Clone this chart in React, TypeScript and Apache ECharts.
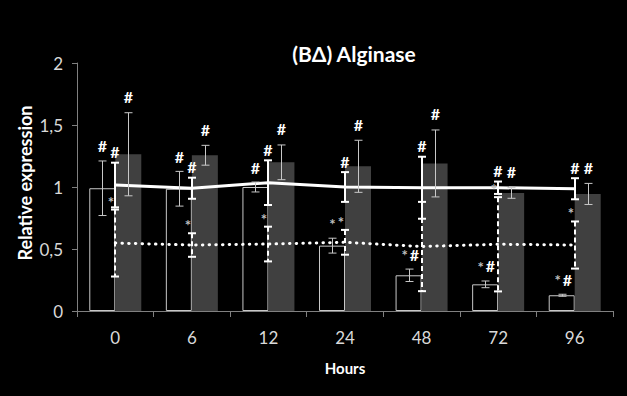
import React, { useEffect, useRef } from "react";
import * as echarts from "echarts";

const hours = ["0", "6", "12", "24", "48", "72", "96"];
const yTicks = [0, 0.5, 1, 1.5, 2];

const whiteBar = [0.99, 0.986, 1.0, 0.527, 0.288, 0.215, 0.127];
const whiteErr = [0.22, 0.14, 0.04, 0.06, 0.05, 0.027, 0.008];
const whiteAnn = ["#", "#", "#", "*", "*#", "*#", "*#"];

const grayBar = [1.264, 1.256, 1.199, 1.167, 1.19, 0.952, 0.944];
const grayErr = [0.335, 0.08, 0.14, 0.21, 0.27, 0.043, 0.085];
const grayAnn = ["#", "#", "#", "#", "#", "#", "#"];

const solidLine = [1.016, 0.99, 1.035, 1.0, 0.994, 0.994, 0.986];
const solidErr = [0.18, 0.085, 0.18, 0.12, 0.25, 0.05, 0.085];
const solidAnn = ["#", "#", "#", "#", "#", "#", "#"];

const dottedLine = [0.548, 0.532, 0.54, 0.554, 0.52, 0.538, 0.532];
const dottedErr = [0.27, 0.095, 0.14, 0.1, 0.36, 0.38, 0.19];
const dottedAnn = ["*", "*", "*", "*", "", "*", "*"];

const BAR_W = 26;
const FONT = "Lato, 'Open Sans', sans-serif";

function annSpans(text: string, x: number, y: number, size: number) {
  const out: any[] = [];
  const w = size * 0.6;
  const total = text.length * w;
  let cx = x - total / 2 + w / 2;
  for (const ch of text) {
    out.push({
      type: "text",
      style: {
        text: ch,
        x: cx,
        y: ch === "*" ? y + 1 : y,
        fill: ch === "*" ? "#bfbfbf" : "#ffffff",
        font: `bold ${ch === "*" ? size - 1 : size}px ${FONT}`,
        align: "center",
        verticalAlign: "middle",
      },
    });
    cx += w;
  }
  return out;
}

function errSeries(
  name: string,
  vals: number[],
  errs: number[],
  anns: string[],
  shift: number,
  stroke: string,
  lineWidth: number,
  dash: number[] | null,
  annDx: number,
  annDy: number
) {
  return {
    type: "custom",
    name,
    z: 10,
    silent: true,
    data: vals.map((v, i) => [i, v, errs[i], i]),
    encode: { x: 0, y: 1 },
    renderItem: (params: any, api: any) => {
      const i = api.value(0);
      const v = api.value(1);
      const e = api.value(2);
      const idx = api.value(3);
      const top = api.coord([i, v + e]);
      const bot = api.coord([i, v - e]);
      const x = Math.round(top[0] + shift) + (lineWidth % 2 ? 0.5 : 0);
      const cap = 4;
      const st: any = { stroke, lineWidth };
      if (dash) st.lineDash = dash;
      const children: any[] = [
        { type: "line", shape: { x1: x, y1: top[1], x2: x, y2: bot[1] }, style: st },
        { type: "line", shape: { x1: x - cap, y1: top[1], x2: x + cap, y2: top[1] }, style: { stroke, lineWidth } },
        { type: "line", shape: { x1: x - cap, y1: bot[1], x2: x + cap, y2: bot[1] }, style: { stroke, lineWidth } },
      ];
      const a = anns[idx];
      if (a) children.push(...annSpans(a, x + annDx, top[1] + annDy, 16));
      return { type: "group", children };
    },
  };
}

export default function App() {
  const ref = useRef<HTMLDivElement>(null);
  useEffect(() => {
    if (!ref.current) return;
    const chart = echarts.init(ref.current, null, { renderer: "svg" });
    chart.setOption({
      animation: false,
      backgroundColor: "#000000",
      grid: { left: 77, right: 14, top: 63, bottom: 85 },
      xAxis: {
        type: "category",
        data: hours,
        boundaryGap: true,
        axisLine: { show: true, lineStyle: { color: "#808080", width: 1 } },
        axisTick: { show: true, length: 6, lineStyle: { color: "#808080" } },
        axisLabel: { color: "#d9d9d9", fontSize: 17, fontFamily: FONT, margin: 18 },
        splitLine: { show: false },
      },
      yAxis: {
        type: "value",
        min: yTicks[0],
        max: yTicks[yTicks.length - 1],
        interval: 0.5,
        axisLine: { show: true, lineStyle: { color: "#808080", width: 1 } },
        axisTick: { show: true, length: 5, lineStyle: { color: "#808080" } },
        axisLabel: {
          color: "#d9d9d9",
          fontSize: 17,
          fontFamily: FONT,
          margin: 14,
          formatter: (v: number) => String(v).replace(".", ","),
        },
        splitLine: { show: false },
      },
      graphic: [
        {
          type: "text",
          x: 354,
          y: 53,
          style: {
            text: "(BΔ) Alginase",
            fill: "#ffffff",
            font: `bold 21px ${FONT}`,
            align: "center",
            verticalAlign: "middle",
          },
        },
        {
          type: "text",
          x: 25,
          y: 183,
          rotation: Math.PI / 2,
          style: {
            text: "Relative expression",
            fill: "#ffffff",
            font: `bold 18px ${FONT}`,
            align: "center",
            verticalAlign: "middle",
          },
        },
        {
          type: "text",
          x: 345,
          y: 368,
          style: {
            text: "Hours",
            fill: "#ffffff",
            font: `bold 15px ${FONT}`,
            align: "center",
            verticalAlign: "middle",
          },
        },
      ],
      series: [
        {
          type: "bar",
          name: "white",
          data: whiteBar,
          barWidth: BAR_W,
          barGap: "0%",
          itemStyle: { color: "#000000", borderColor: "#c8c8c8", borderWidth: 1 },
          z: 2,
        },
        {
          type: "bar",
          name: "gray",
          data: grayBar,
          barWidth: BAR_W,
          barGap: "0%",
          itemStyle: { color: "#404040" },
          z: 2,
        },
        {
          type: "line",
          name: "solid",
          data: solidLine,
          symbol: "none",
          lineStyle: { color: "#ffffff", width: 3 },
          z: 5,
        },
        {
          type: "line",
          name: "dotted",
          data: dottedLine,
          symbol: "none",
          lineStyle: { color: "#ffffff", width: 3, type: [0.5, 6.2], cap: "round" },
          z: 5,
        },
        errSeries("whiteErr", whiteBar, whiteErr, whiteAnn, -BAR_W / 2, "#c8c8c8", 1, null, 0, -15),
        errSeries("grayErr", grayBar, grayErr, grayAnn, BAR_W / 2, "#c8c8c8", 1, null, 0, -16),
        errSeries("dottedErr", dottedLine, dottedErr, dottedAnn, 0, "#ffffff", 2, [5, 3], -4, -9),
        errSeries("solidErr", solidLine, solidErr, solidAnn, 0, "#ffffff", 2, null, 0, -11),
      ],
    });
    return () => chart.dispose();
  }, []);
  return (
    <div
      ref={ref}
      style={{ position: "fixed", left: 0, top: 0, width: 627, height: 396, background: "#000" }}
    />
  );
}
